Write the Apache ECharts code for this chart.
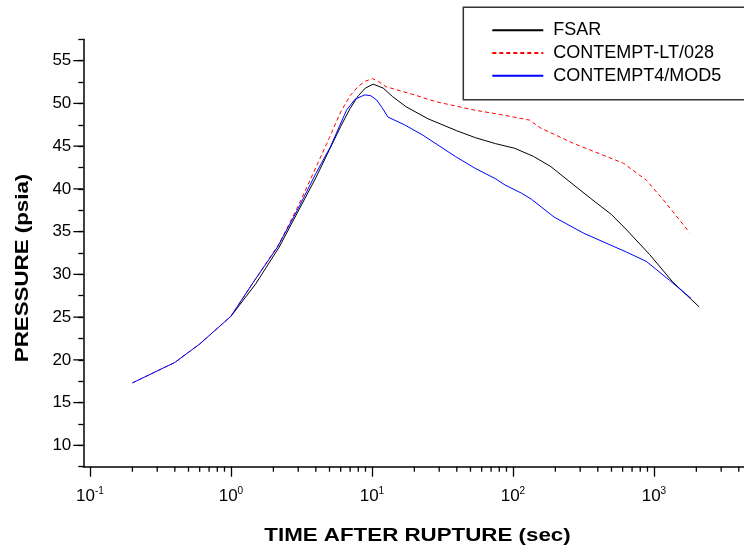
<!DOCTYPE html>
<html>
<head>
<meta charset="utf-8">
<script src="https://cdn.jsdelivr.net/npm/echarts@6/dist/echarts.min.js"></script>
<style>
  html, body { margin: 0; padding: 0; background: #fff; }
  #chart { width: 744px; height: 552px; }
</style>
</head>
<body>
<div id="chart"></div>
<script>
// time after rupture (sec) and pressure (psia)
const fsarTime = [1.0, 1.5, 2.2, 3.0, 4, 5, 6, 7, 8, 9, 10.2, 12, 14, 17.5, 25, 40, 54, 75, 103, 140, 186, 250, 355, 500, 641, 935, 1362, 2094];
const fsarPressure = [25.1, 28.9, 33.2, 37.4, 41.3, 44.6, 47.3, 49.4, 50.9, 51.8, 52.25, 51.8, 50.8, 49.6, 48.2, 46.8, 46.0, 45.3, 44.75, 43.8, 42.6, 40.9, 38.9, 37.0, 35.2, 32.3, 29.1, 26.2];

const ltTime = [0.2, 0.4, 0.6, 1.0, 1.5, 2.2, 3.0, 4, 5, 6, 7, 8, 9, 10.1, 11, 12.6, 20, 28.4, 54, 75, 88, 131, 158, 271, 608, 887, 1224, 1787];
const ltPressure = [17.3, 19.7, 21.85, 25.1, 29.5, 33.6, 38.0, 42.5, 46.0, 49.0, 50.9, 52.0, 52.6, 52.9, 52.6, 51.95, 51.0, 50.2, 49.2, 48.8, 48.6, 48.05, 47.1, 45.3, 43.0, 41.0, 38.3, 34.9];

const mod5Time = [0.2, 0.4, 0.6, 1.0, 1.43, 2.14, 3.0, 4, 5.07, 6.6, 7.6, 8.9, 9.8, 10.8, 11.8, 13, 17, 22.9, 39, 54, 75, 88, 115, 135, 196, 319, 641, 887, 1291, 1832];
const mod5Pressure = [17.3, 19.7, 21.85, 25.1, 29.0, 33.2, 37.7, 41.8, 44.9, 49.2, 50.5, 51.0, 50.9, 50.4, 49.5, 48.4, 47.5, 46.3, 43.8, 42.4, 41.2, 40.45, 39.5, 38.8, 36.7, 34.8, 32.6, 31.5, 29.3, 27.2];

const seriesNames = ['FSAR', 'CONTEMPT-LT/028', 'CONTEMPT4/MOD5'];

// axis ranges and ticks
const X_MIN = 0.0897;
const X_MAX = 4355;
const Y_MIN = 7.5;
const Y_MAX = 57.5;
const xMinorTicks = [0.2, 0.3, 0.4, 0.5, 0.6, 0.7, 0.8, 0.9, 2, 3, 4, 5, 6, 7, 8, 9, 20, 30, 40, 50, 60, 70, 80, 90, 200, 300, 400, 500, 600, 700, 800, 900, 2000, 3000, 4000];
const yMajorTicks = [10, 15, 20, 25, 30, 35, 40, 45, 50, 55];

const FONT = '"Liberation Sans", Arial, sans-serif';

function pairs(xs, ys) {
    return xs.map((x, i) => [x, ys[i]]);
}

function lineSeries(name, xs, ys, color, type, z) {
    return {
        name: name,
        type: 'line',
        data: pairs(xs, ys),
        showSymbol: false,
        symbol: 'none',
        lineStyle: { color: color, width: 1, type: type },
        itemStyle: { color: color },
        z: z
    };
}

const chart = echarts.init(document.getElementById('chart'));
chart.setOption({
    animation: false,
    backgroundColor: '#fff',
    grid: { left: 83.3, top: 39.3, right: -8, bottom: 85.3 },
    xAxis: {
        type: 'log',
        logBase: 10,
        min: X_MIN,
        max: X_MAX,
        splitLine: { show: false },
        axisLine: { lineStyle: { color: '#000', width: 1.5 } },
        axisTick: { length: 10, lineStyle: { color: '#000', width: 1.3 } },
        axisLabel: {
            showMinLabel: false,
            showMaxLabel: false,
            margin: 20,
            formatter: v => '{b|10}{s|' + Math.round(Math.log10(v)) + '}',
            rich: {
                b: { fontSize: 17, fontFamily: FONT, color: '#000', lineHeight: 20 },
                s: { fontSize: 10, fontFamily: FONT, color: '#000', verticalAlign: 'top', lineHeight: 12 }
            }
        }
    },
    yAxis: {
        type: 'value',
        min: Y_MIN,
        max: Y_MAX,
        interval: 2.5,
        splitLine: { show: false },
        axisLine: { show: true, lineStyle: { color: '#000', width: 1.5 } },
        axisTick: { length: 5, lineStyle: { color: '#000', width: 1.3 } },
        axisLabel: {
            margin: 12,
            fontSize: 17,
            fontFamily: FONT,
            color: '#000',
            formatter: v => (v % 5 === 0 ? String(v) : '')
        }
    },
    legend: {
        data: seriesNames,
        orient: 'vertical',
        align: 'left',
        left: 463.3,
        top: 7.3,
        padding: [14, 60, 15, 28],
        itemWidth: 51,
        itemHeight: 14,
        itemGap: 4.7,
        itemStyle: { opacity: 0 },
        borderColor: '#333',
        borderWidth: 1.5,
        textStyle: { fontSize: 18, lineHeight: 18, fontFamily: FONT, color: '#000', padding: [0, 0, 0, 5] }
    },
    graphic: [
        {
            type: 'text',
            x: 417.5,
            y: 536,
            scaleX: 1.24,
            style: {
                text: 'TIME AFTER RUPTURE (sec)',
                font: 'bold 18px ' + FONT,
                fill: '#000',
                align: 'center',
                verticalAlign: 'middle'
            }
        },
        {
            type: 'text',
            x: 23.5,
            y: 268,
            rotation: Math.PI / 2,
            scaleX: 1.24,
            style: {
                text: 'PRESSURE (psia)',
                font: 'bold 18px ' + FONT,
                fill: '#000',
                align: 'center',
                verticalAlign: 'middle'
            }
        }
    ],
    series: [
        lineSeries('FSAR', fsarTime, fsarPressure, '#000', 'solid', 3),
        lineSeries('CONTEMPT-LT/028', ltTime, ltPressure, '#ff0000', [4, 3], 2),
        lineSeries('CONTEMPT4/MOD5', mod5Time, mod5Pressure, '#0000ff', 'solid', 4),
        {
            // minor log ticks on the time axis
            type: 'custom',
            silent: true,
            clip: false,
            data: xMinorTicks.map(v => [v, Y_MIN]),
            renderItem: (params, api) => {
                const p = api.coord([api.value(0), api.value(1)]);
                return {
                    type: 'line',
                    shape: { x1: p[0], y1: p[1], x2: p[0], y2: p[1] + 5 },
                    style: { stroke: '#000', lineWidth: 1.3 }
                };
            }
        },
        {
            // long ticks at the labelled pressures
            type: 'custom',
            silent: true,
            clip: false,
            data: yMajorTicks.map(v => [X_MIN, v]),
            renderItem: (params, api) => {
                const p = api.coord([api.value(0), api.value(1)]);
                return {
                    type: 'line',
                    shape: { x1: p[0], y1: p[1], x2: p[0] - 10, y2: p[1] },
                    style: { stroke: '#000', lineWidth: 1.3 }
                };
            }
        }
    ]
});
</script>
</body>
</html>
